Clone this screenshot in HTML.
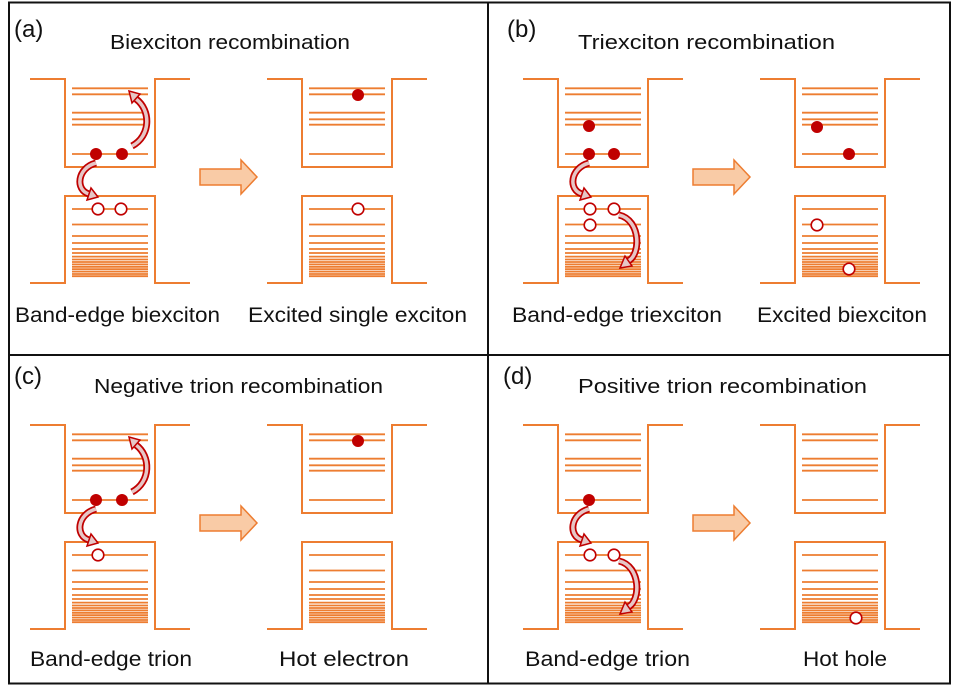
<!DOCTYPE html>
<html><head><meta charset="utf-8"><style>
html,body{margin:0;padding:0;background:#fff;}
svg{display:block;}
text{font-family:"Liberation Sans",Arial,sans-serif;fill:#111;}
</style></head><body>
<svg width="953" height="687" viewBox="0 0 953 687" xmlns="http://www.w3.org/2000/svg">
<defs>
<g id="well" fill="none" stroke="#ed7d31">
<path d="M30,79 H65 V167 H155 V79 H190 M30,283 H65 V196 H155 V283 H190" stroke-width="2"/>
<path stroke-width="1.8" d="M72,88.3H148M72,94.3H148M72,112.7H148M72,119.3H148M72,124.7H148M72,154H148
M72,209H148M72,224.5H148M72,236H148M72,243H148M72,249H148M72,253H148M72,256.6H148M72,259.5H148M72,262H148M72,264.4H148M72,266.8H148M72,269.2H148M72,271.6H148M72,274H148M72,276.2H148"/>
</g>
<path id="bigarrow" d="M200,169 H241 V160 L257,177 L241,194 V185 H200 Z" fill="#f9cba6" stroke="#ed7d31" stroke-width="1.5"/>
<g id="arrowUp">
<path d="M132,146 C151,136 151,110 136,99" fill="none" stroke="#c00000" stroke-width="7"/>
<path d="M132,146 C151,136 151,110 136,99" fill="none" stroke="#e6c6c6" stroke-width="3.5"/>
<polygon points="129,91 140,94 132,103" fill="#e6c6c6" stroke="#c00000" stroke-width="1.5"/>
</g>
<g id="arrowDown">
<path d="M96,163 C77,168 75,190 89,194" fill="none" stroke="#c00000" stroke-width="7"/>
<path d="M96,163 C77,168 75,190 89,194" fill="none" stroke="#e6c6c6" stroke-width="3.5"/>
<polygon points="98,197 87,200 91,188" fill="#e6c6c6" stroke="#c00000" stroke-width="1.5"/>
</g>
<g id="arrowHole">
<path d="M126,215 C148,220 148,255 135,261" fill="none" stroke="#c00000" stroke-width="7"/>
<path d="M126,215 C148,220 148,255 135,261" fill="none" stroke="#e6c6c6" stroke-width="3.5"/>
<polygon points="127,268 139,266 132,256" fill="#e6c6c6" stroke="#c00000" stroke-width="1.5"/>
</g>
</defs>

<rect x="9" y="2.5" width="941" height="681" fill="none" stroke="#111" stroke-width="2"/>
<line x1="488" y1="2" x2="488" y2="684" stroke="#111" stroke-width="2"/>
<line x1="9" y1="355" x2="950" y2="355" stroke="#111" stroke-width="2"/>

<use href="#well"/><use href="#well" x="237"/>
<use href="#well" x="493"/><use href="#well" x="730"/>
<use href="#well" y="346"/><use href="#well" x="237" y="346"/>
<use href="#well" x="493" y="346"/><use href="#well" x="730" y="346"/>
<use href="#bigarrow"/><use href="#bigarrow" x="493"/>
<use href="#bigarrow" y="346"/><use href="#bigarrow" x="493" y="346"/>

<g fill="#c00000">
<circle cx="96" cy="154" r="6"/><circle cx="122" cy="154" r="6"/>
<circle cx="358" cy="95" r="6"/>
<circle cx="589" cy="126" r="6"/><circle cx="589" cy="154" r="6"/><circle cx="614" cy="154" r="6"/>
<circle cx="817" cy="127" r="6"/><circle cx="849" cy="154" r="6"/>
<circle cx="96" cy="500" r="6"/><circle cx="122" cy="500" r="6"/>
<circle cx="358" cy="441" r="6"/>
<circle cx="589" cy="500" r="6"/>
</g>
<g fill="#fff" stroke="#c00000" stroke-width="1.6">
<circle cx="98" cy="209" r="5.8"/><circle cx="121" cy="209" r="5.8"/>
<circle cx="358" cy="209" r="5.8"/>
<circle cx="590" cy="209" r="5.8"/><circle cx="614" cy="209" r="5.8"/><circle cx="590" cy="225" r="5.8"/>
<circle cx="817" cy="225" r="5.8"/><circle cx="849" cy="269" r="5.8"/>
<circle cx="98" cy="555" r="5.8"/>
<circle cx="590" cy="555" r="5.8"/><circle cx="614" cy="555" r="5.8"/>
<circle cx="856" cy="618" r="5.8"/>
</g>

<use href="#arrowUp"/><use href="#arrowDown"/>
<use href="#arrowDown" x="493"/><use href="#arrowHole" x="493"/>
<use href="#arrowUp" y="346"/><use href="#arrowDown" y="346"/>
<use href="#arrowDown" x="493" y="346"/><use href="#arrowHole" x="493" y="346"/>

<g font-size="24">
<text x="14" y="37">(a)</text>
<text x="507" y="37">(b)</text>
<text x="14" y="384">(c)</text>
<text x="503" y="384">(d)</text>
</g>
<g font-size="20">
<text x="110" y="49" textLength="240" lengthAdjust="spacingAndGlyphs">Biexciton recombination</text>
<text x="578" y="49" textLength="257" lengthAdjust="spacingAndGlyphs">Triexciton recombination</text>
<text x="94" y="393" textLength="289" lengthAdjust="spacingAndGlyphs">Negative trion recombination</text>
<text x="578" y="393" textLength="289" lengthAdjust="spacingAndGlyphs">Positive trion recombination</text>
</g>
<g font-size="21">
<text x="15" y="322" textLength="205" lengthAdjust="spacingAndGlyphs">Band-edge biexciton</text>
<text x="248" y="322" textLength="219" lengthAdjust="spacingAndGlyphs">Excited single exciton</text>
<text x="512" y="322" textLength="210" lengthAdjust="spacingAndGlyphs">Band-edge triexciton</text>
<text x="757" y="322" textLength="170" lengthAdjust="spacingAndGlyphs">Excited biexciton</text>
<text x="30" y="666" textLength="162" lengthAdjust="spacingAndGlyphs">Band-edge trion</text>
<text x="279" y="666" textLength="130" lengthAdjust="spacingAndGlyphs">Hot electron</text>
<text x="525" y="666" textLength="165" lengthAdjust="spacingAndGlyphs">Band-edge trion</text>
<text x="803" y="666" textLength="84" lengthAdjust="spacingAndGlyphs">Hot hole</text>
</g>
</svg>
</body></html>
